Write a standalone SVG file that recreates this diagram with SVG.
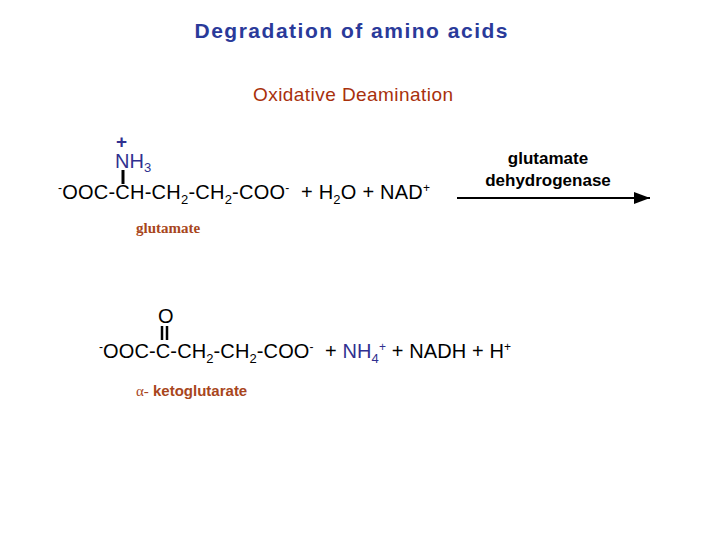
<svg xmlns="http://www.w3.org/2000/svg" width="720" height="540" viewBox="0 0 720 540">
<style>
text{font-family:"Liberation Sans",Arial,sans-serif}
.eq{font-size:20px;fill:#000}
.sub{font-size:13px}
.sup{font-size:12px}
.lbl{font-size:17px;font-weight:bold;text-anchor:middle}
</style>
<defs><marker id="ah" markerWidth="8" markerHeight="6" refX="8" refY="3" orient="auto"><path d="M0,0 L8,3 L0,6 z" fill="#000"/></marker></defs>
<rect width="720" height="540" fill="#fff"/>
<text x="351" y="38" font-size="21" font-weight="bold" fill="#2a3a9a" text-anchor="middle" textLength="313">Degradation of amino acids</text>
<text x="353" y="101" font-size="19" fill="#a8300c" text-anchor="middle" textLength="200">Oxidative Deamination</text>
<text x="116" y="148" font-size="19" font-weight="bold" fill="#303090">+</text>
<text x="115" y="168" style="fill:#303090;font-size:20px">NH<tspan class="sub" dy="4">3</tspan></text>
<line x1="123" y1="170" x2="123" y2="184" stroke="#000" stroke-width="3"/>
<text x="58" y="199" class="eq" xml:space="preserve" textLength="372" lengthAdjust="spacing"><tspan class="sup" dy="-7">-</tspan><tspan dy="7">OOC-CH-CH</tspan><tspan class="sub" dy="5">2</tspan><tspan dy="-5">-CH</tspan><tspan class="sub" dy="5">2</tspan><tspan dy="-5">-COO</tspan><tspan class="sup" dy="-7">-</tspan><tspan dy="7">  + H</tspan><tspan class="sub" dy="5">2</tspan><tspan dy="-5">O + NAD</tspan><tspan class="sup" dy="-7">+</tspan></text>
<text x="136" y="233" font-size="15" font-weight="bold" fill="#a8461c" style="font-family:'Liberation Serif',serif">glutamate</text>
<text x="548" y="164" class="lbl">glutamate</text>
<text x="548" y="186" class="lbl">dehydrogenase</text>
<line x1="457" y1="198" x2="650" y2="198" stroke="#000" stroke-width="2" marker-end="url(#ah)"/>
<text x="158" y="323" class="eq">O</text>
<line x1="162" y1="326" x2="162" y2="340" stroke="#000" stroke-width="2.5"/>
<line x1="167" y1="326" x2="167" y2="340" stroke="#000" stroke-width="2.5"/>
<text x="99" y="358" class="eq" xml:space="preserve" textLength="412" lengthAdjust="spacing"><tspan class="sup" dy="-7">-</tspan><tspan dy="7">OOC-C-CH</tspan><tspan class="sub" dy="5">2</tspan><tspan dy="-5">-CH</tspan><tspan class="sub" dy="5">2</tspan><tspan dy="-5">-COO</tspan><tspan class="sup" dy="-7">-</tspan><tspan dy="7">  + </tspan><tspan fill="#303090">NH</tspan><tspan class="sub" dy="5" fill="#303090">4</tspan><tspan class="sup" dy="-12" fill="#303090">+</tspan><tspan dy="7"> + NADH + H</tspan><tspan class="sup" dy="-7">+</tspan></text>
<text x="136" y="396" font-size="15" font-weight="bold" fill="#a8461c"><tspan font-family="'Liberation Serif',serif" font-weight="normal">α-</tspan> ketoglutarate</text>
</svg>
